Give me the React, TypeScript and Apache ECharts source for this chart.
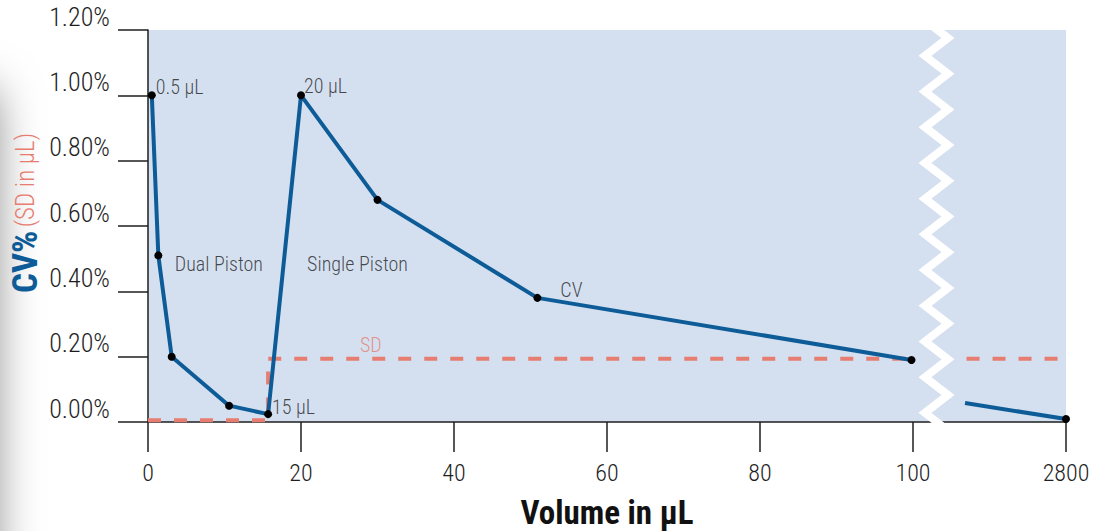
import React, { useEffect, useRef } from 'react';
import * as echarts from 'echarts';

// ---- data ----
const xTicks = [0, 20, 40, 60, 80, 100, 120];
const xTickLabels = ['0', '20', '40', '60', '80', '100', '2800'];

const cvMainX = [0.5, 1.35, 3.1, 10.6, 15.7, 20, 30, 50.9, 99.8];
const cvMainY = [1.0, 0.51, 0.2, 0.05, 0.024, 1.0, 0.68, 0.38, 0.19];
const cvTailX = [106.8, 120];
const cvTailY = [0.058, 0.009];
const cvTailSymbol = ['none', 'circle'];

const sdMainX = [0, 15.7, 15.7, 100];
const sdMainY = [0.005, 0.005, 0.194, 0.194];
const sdTailX = [107, 120];
const sdTailY = [0.194, 0.194];

const noteTexts = ['0.5 µL', '20 µL', '15 µL', 'Dual Piston', 'Single Piston', 'CV'];
const noteX = [1.0, 20.4, 16.2, 3.5, 20.8, 53.9];
const noteY = [1.025, 1.03, 0.045, 0.484, 0.484, 0.404];

const sdNoteText = ['SD'];
const sdNoteX = [27.7];
const sdNoteY = [0.236];

const FONT = "'Roboto Condensed', Roboto, sans-serif";
const BLUE = '#0d5c98';
const SALMON = '#e67d70';
const INK = '#1e1e1e';

export default function App() {
  const ref = useRef<HTMLDivElement>(null);

  useEffect(() => {
    document.body.style.margin = '0';
    const chart = echarts.init(ref.current!, null, { renderer: 'svg' });

    const gridLeft = 148;
    const gridRight = 39;
    const gridTop = 30;
    const gridBottom = 109;

    // zigzag break decoration
    const zig: number[][] = [];
    const period = 35.7;
    for (let k = -1; k <= 11; k++) {
      const yR = 38 + period * k;
      zig.push([948, yR]);
      zig.push([925, yR + period / 2]);
    }

    const option: any = {
      animation: false,
      backgroundColor: '#ffffff',
      grid: {
        left: gridLeft,
        right: gridRight,
        top: gridTop,
        bottom: gridBottom,
        show: true,
        backgroundColor: '#d4e0f0',
        borderWidth: 0,
      },
      xAxis: {
        type: 'value',
        min: 0,
        max: 120,
        interval: 20,
        axisLine: { show: true, onZero: false, lineStyle: { color: INK, width: 1.5 } },
        axisTick: { show: true, length: 30, lineStyle: { color: INK, width: 1.5 } },
        splitLine: { show: false },
        axisLabel: {
          fontFamily: FONT,
          fontSize: 24,
          fontWeight: 300,
          color: INK,
          margin: 39,
          formatter: (v: number) => {
            const i = xTicks.indexOf(v);
            return i >= 0 ? xTickLabels[i] : '';
          },
        },
      },
      yAxis: {
        type: 'value',
        min: 0,
        max: 1.2,
        interval: 0.2,
        axisLine: { show: true, lineStyle: { color: INK, width: 1.5 } },
        axisTick: { show: true, length: 30, lineStyle: { color: INK, width: 1.5 } },
        splitLine: { show: false },
        axisLabel: {
          fontFamily: FONT,
          fontSize: 26,
          fontWeight: 300,
          color: INK,
          margin: 38,
          verticalAlign: 'bottom',
          lineHeight: 27,
          formatter: (v: number) => v.toFixed(2) + '%',
        },
      },
      series: [
        {
          type: 'line',
          data: sdMainX.map((x, i) => [x, sdMainY[i]]),
          symbol: 'none',
          lineStyle: { color: SALMON, width: 4, type: [13, 13] },
          z: 2,
        },
        {
          type: 'line',
          data: sdTailX.map((x, i) => [x, sdTailY[i]]),
          symbol: 'none',
          lineStyle: { color: SALMON, width: 4, type: [13, 13] },
          z: 2,
        },
        {
          type: 'line',
          data: cvMainX.map((x, i) => [x, cvMainY[i]]),
          symbol: 'circle',
          symbolSize: 8,
          itemStyle: { color: '#000' },
          lineStyle: { color: BLUE, width: 4 },
          z: 3,
        },
        {
          type: 'line',
          data: cvTailX.map((x, i) => ({ value: [x, cvTailY[i]], symbol: cvTailSymbol[i] })),
          symbolSize: 8,
          itemStyle: { color: '#000' },
          lineStyle: { color: BLUE, width: 4 },
          z: 3,
        },
        {
          type: 'scatter',
          data: noteX.map((x, i) => ({ value: [x, noteY[i]], name: noteTexts[i] })),
          symbolSize: 0,
          silent: true,
          label: {
            show: true,
            position: 'right',
            distance: 0,
            formatter: (p: any) => p.name,
            fontFamily: FONT,
            fontSize: 20,
            fontWeight: 300,
            color: INK,
          },
          z: 4,
        },
        {
          type: 'scatter',
          data: sdNoteX.map((x, i) => ({ value: [x, sdNoteY[i]], name: sdNoteText[i] })),
          symbolSize: 0,
          silent: true,
          label: {
            show: true,
            position: 'right',
            distance: 0,
            formatter: (p: any) => p.name,
            fontFamily: FONT,
            fontSize: 20,
            fontWeight: 300,
            color: SALMON,
          },
          z: 4,
        },
      ],
      graphic: [
        {
          type: 'rect',
          z: -10,
          shape: { x: -60, y: 90, width: 54, height: 600 },
          style: { fill: '#999', shadowBlur: 45, shadowColor: 'rgba(0,0,0,0.5)' },
          silent: true,
        },
        {
          type: 'polyline',
          z: 100,
          shape: { points: zig },
          style: { stroke: '#ffffff', lineWidth: 8, fill: null, lineJoin: 'miter' },
          silent: true,
        },
        {
          type: 'text',
          z: 100,
          x: 25,
          y: 213,
          rotation: Math.PI / 2,
          style: {
            text: '{cv|CV%} {sd|(SD in µL)}',
            align: 'center',
            verticalAlign: 'middle',
            rich: {
              sd: { fontFamily: FONT, fontSize: 25, fill: SALMON, fontWeight: 300 },
              cv: { fontFamily: FONT, fontSize: 35, fill: BLUE, fontWeight: 'bold' },
            },
          },
        },
        {
          type: 'text',
          z: 100,
          x: 607,
          y: 512,
          style: {
            text: 'Volume in µL',
            align: 'center',
            verticalAlign: 'middle',
            fontFamily: FONT,
            fontSize: 33,
            fontWeight: 'bold',
            fill: '#111',
          },
        },
      ],
    };

    chart.setOption(option);
    return () => chart.dispose();
  }, []);

  return (
    <div
      ref={ref}
      style={{ position: 'fixed', left: 0, top: 0, width: 1105, height: 531, background: '#fff' }}
    />
  );
}
